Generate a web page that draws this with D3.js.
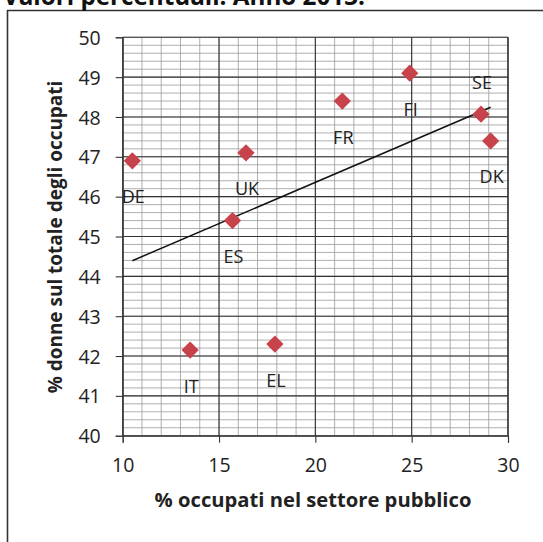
<!DOCTYPE html>
<html>
<head>
<meta charset="utf-8">
<script src="https://cdn.jsdelivr.net/npm/d3@7"></script>
<style>
  html, body { margin: 0; padding: 0; background: #fff; }
  svg { display: block; }
</style>
</head>
<body>
<svg id="chart" width="543" height="542"></svg>
<script>
// ---- data ----
const countries = ["DE", "UK", "ES", "FR", "FI", "SE", "DK", "IT", "EL"];
const publicSector = [10.5, 16.4, 15.7, 21.4, 24.9, 28.6, 29.1, 13.5, 17.9];
const womenShare = [46.9, 47.1, 45.4, 48.4, 49.1, 48.07, 47.4, 42.15, 42.3];
const labelAbove = ["SE"];
const xTicks = [10, 15, 20, 25, 30];
const yTicks = [40, 41, 42, 43, 44, 45, 46, 47, 48, 49, 50];
const titleText = "Valori percentuali. Anno 2013.";
const xTitle = "% occupati nel settore pubblico";
const yTitle = "% donne sul totale degli occupati";

const svg = d3.select("#chart");
const font = "'Open Sans', 'Noto Sans', sans-serif";

const plot = { left: 122.7, right: 508, top: 37.3, bottom: 435.7 };
const x = d3.scaleLinear().domain([10, 30]).range([plot.left, plot.right]);
const y = d3.scaleLinear().domain([40, 50]).range([plot.bottom, plot.top]);

function fit(sel, target) {
  const w = sel.node().getComputedTextLength();
  const fs = parseFloat(sel.attr("font-size"));
  sel.attr("font-size", fs * target / w);
}

// outer frame (partially visible)
svg.append("line").attr("x1", 7.5).attr("x2", 7.5).attr("y1", 10).attr("y2", 542)
  .attr("stroke", "#333").attr("stroke-width", 1.6);
svg.append("line").attr("x1", 7).attr("x2", 543).attr("y1", 10.5).attr("y2", 10.5)
  .attr("stroke", "#333").attr("stroke-width", 1.6);

// title (cut off at top)
const tt = svg.append("text").attr("x", 3).attr("y", 5)
  .attr("font-family", font).attr("font-weight", "bold").attr("font-size", 22)
  .attr("fill", "#111").text(titleText);
fit(tt, 362);

// minor grid
const g = svg.append("g");
const minorY = d3.range(40, 50.001, 0.2);
g.selectAll(".hminor").data(minorY).join("line")
  .attr("x1", plot.left).attr("x2", plot.right)
  .attr("y1", d => y(d)).attr("y2", d => y(d))
  .attr("stroke", "#9a9a9a").attr("stroke-width", 0.8);
const minorX = d3.range(10, 30.001, 1);
g.selectAll(".vminor").data(minorX).join("line")
  .attr("x1", d => x(d)).attr("x2", d => x(d))
  .attr("y1", plot.top).attr("y2", plot.bottom)
  .attr("stroke", "#9a9a9a").attr("stroke-width", 0.8);

// major grid
g.selectAll(".hmajor").data(yTicks).join("line")
  .attr("x1", plot.left).attr("x2", plot.right)
  .attr("y1", d => y(d)).attr("y2", d => y(d))
  .attr("stroke", "#333").attr("stroke-width", 1.1);
g.selectAll(".vmajor").data(xTicks).join("line")
  .attr("x1", d => x(d)).attr("x2", d => x(d))
  .attr("y1", plot.top).attr("y2", plot.bottom)
  .attr("stroke", "#333").attr("stroke-width", 1.1);

// axes
const yAxis = d3.axisLeft(y).tickValues(yTicks).tickSize(7).tickPadding(15).tickFormat(d3.format("d"));
const xAxis = d3.axisBottom(x).tickValues(xTicks).tickSize(7).tickPadding(15).tickFormat(d3.format("d"));
const ya = svg.append("g").attr("transform", `translate(${plot.left},0)`).call(yAxis);
const xa = svg.append("g").attr("transform", `translate(0,${plot.bottom})`).call(xAxis);
[ya, xa].forEach(a => {
  a.select(".domain").attr("stroke", "#333").attr("stroke-width", 1.1);
  a.selectAll(".tick line").attr("stroke", "#333").attr("stroke-width", 1.1);
  a.selectAll(".tick text").attr("font-family", font).attr("font-size", 19.5).attr("fill", "#222");
});
ya.selectAll(".tick text").attr("dy", "0.36em");
// right border of plot
svg.append("line").attr("x1", plot.right).attr("x2", plot.right).attr("y1", plot.top).attr("y2", plot.bottom)
  .attr("stroke", "#333").attr("stroke-width", 1.1);

// trend line (least squares)
const n = publicSector.length;
const mx = d3.mean(publicSector), my = d3.mean(womenShare);
let sxy = 0, sxx = 0;
for (let i = 0; i < n; i++) { sxy += (publicSector[i] - mx) * (womenShare[i] - my); sxx += (publicSector[i] - mx) ** 2; }
const slope = sxy / sxx, icpt = my - slope * mx;
const [x0, x1] = d3.extent(publicSector);
svg.append("line")
  .attr("x1", x(x0)).attr("y1", y(icpt + slope * x0))
  .attr("x2", x(x1)).attr("y2", y(icpt + slope * x1))
  .attr("stroke", "#111").attr("stroke-width", 1.5);

// points
const pts = countries.map((c, i) => ({ c, x: publicSector[i], y: womenShare[i] }));
svg.selectAll(".pt").data(pts).join("path")
  .attr("d", d3.symbol().type(d3.symbolDiamond2).size(190))
  .attr("transform", d => `translate(${x(d.x)},${y(d.y)})`)
  .attr("fill", "#c8424b");

// labels
svg.selectAll(".lbl").data(pts).join("text")
  .attr("x", d => x(d.x) + 1)
  .attr("y", d => y(d.y) + (labelAbove.includes(d.c) ? -32 : 36))
  .attr("dy", "0.36em")
  .attr("text-anchor", "middle")
  .attr("font-family", font).attr("font-size", 18).attr("fill", "#222")
  .text(d => d.c);

// axis titles
const xt = svg.append("text").attr("x", 313).attr("y", 500).attr("dy", "0.36em")
  .attr("text-anchor", "middle").attr("font-family", font).attr("font-weight", "bold")
  .attr("font-size", 17).attr("fill", "#222").text(xTitle);
fit(xt, 317);
const yt = svg.append("text").attr("transform", "translate(55,237) rotate(-90)").attr("dy", "0.36em")
  .attr("text-anchor", "middle").attr("font-family", font).attr("font-weight", "bold")
  .attr("font-size", 17).attr("fill", "#222").text(yTitle);
fit(yt, 313);
</script>
</body>
</html>
